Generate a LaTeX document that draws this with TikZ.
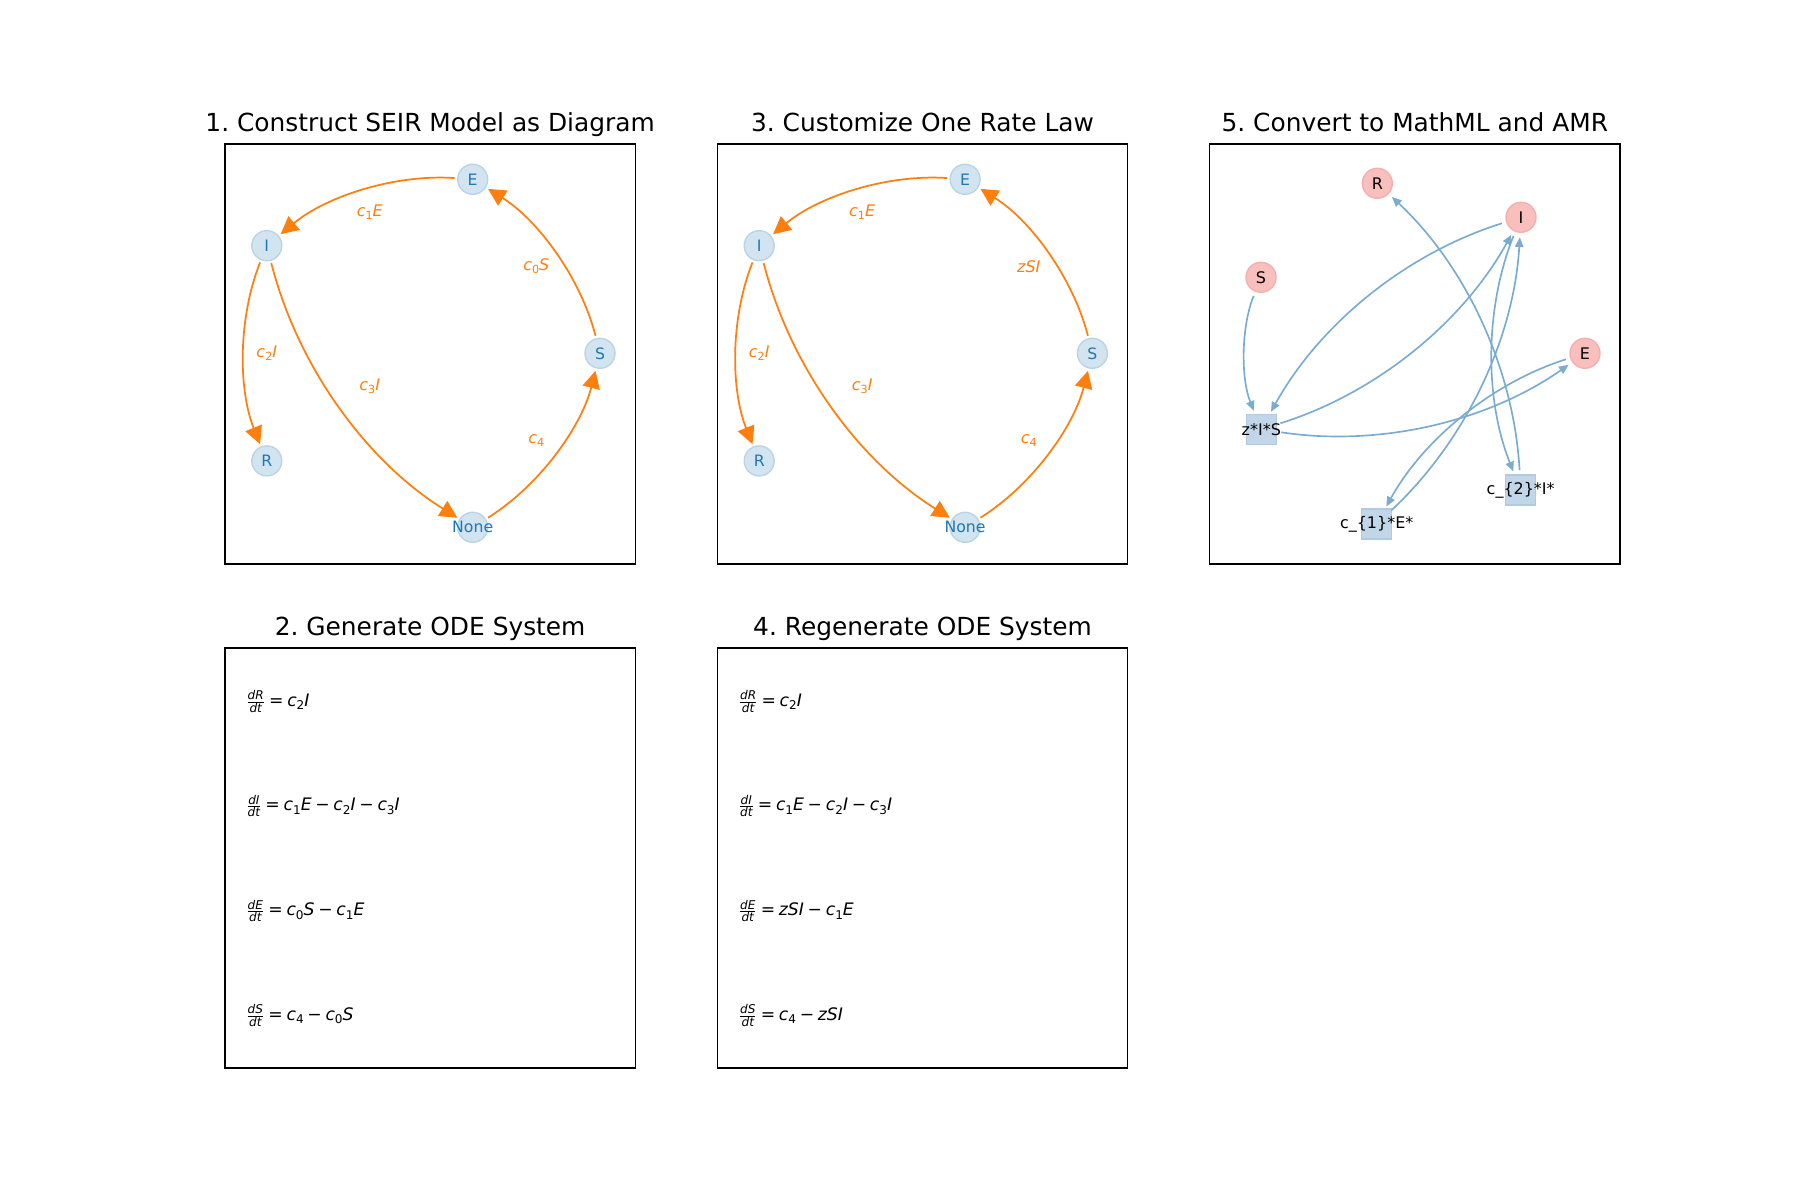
\documentclass[tikz,border=0pt]{standalone}
\usepackage{fontspec}
\usepackage{amsmath}
\setmainfont{DejaVu Sans}
\usetikzlibrary{calc,arrows.meta}
\frenchspacing
\definecolor{tabblue}{RGB}{31,119,180}
\definecolor{taborange}{RGB}{255,127,14}
\definecolor{nfill}{RGB}{210,228,240}
\definecolor{ndraw}{RGB}{186,211,231}
\definecolor{rfill}{RGB}{248,191,188}
\definecolor{rdraw}{RGB}{243,176,172}
\definecolor{tfill}{RGB}{193,214,232}
\definecolor{tdraw}{RGB}{176,202,226}
\definecolor{bedge}{RGB}{122,172,210}
\newcommand\mv[1]{\textit{#1}}
\newcommand\subx[1]{\raisebox{-0.2em}{\scalebox{0.7}{#1}}}
\newcommand\eqsp{\hspace{0.215em}}
\newcommand\ofr[2]{$\frac{\text{\itshape #1}}{\text{\itshape #2}}$}
\newcommand\arcedge[3][]{%
  \coordinate (ctl) at ($(#2.center)!0.5!(#3.center)!0.4!-90:(#3.center)$);
  \draw[#1] (#2) .. controls ($(#2.center)!2/3!(ctl)$) and ($(#3.center)!2/3!(ctl)$) .. (#3);}
\tikzset{
 frame/.style={draw=black, line width=1bp},
 ttl/.style={anchor=base, inner sep=0, font=\fontsize{17.9bp}{20bp}\selectfont},
 pnode/.style={circle, minimum size=21.6bp, inner sep=0, outer sep=2.2bp, fill=nfill, draw=ndraw, line width=1bp},
 plab/.style={text=tabblue, inner sep=0, font=\fontsize{11.3bp}{13bp}\selectfont},
 pedge/.style={draw=taborange, line width=1.25bp, -{Triangle[length=12.6bp,width=12.6bp]}},
 elab/.style={fill=white, inner sep=1.5bp, text=taborange, font=\fontsize{11.5bp}{13bp}\selectfont},
 rnode/.style={circle, minimum size=21.6bp, inner sep=0, outer sep=3.6bp, fill=rfill, draw=rdraw, line width=1bp},
 tnode/.style={circle, minimum size=21.6bp, inner sep=0, outer sep=3.6bp},
 tsq/.style={rectangle, minimum size=21.6bp, inner sep=0, fill=tfill, draw=tdraw, line width=1bp},
 klab/.style={text=black, inner sep=0, font=\fontsize{11.5bp}{13bp}\selectfont},
 bedgestyle/.style={draw=bedge, line width=1.2bp, -{Triangle[length=7bp,width=6bp]}},
 eqn/.style={anchor=base west, inner sep=0, font=\fontsize{12.4bp}{15bp}\selectfont},
}
\begin{document}
\begin{tikzpicture}[x=0.72bp, y=-0.72bp]
\useasboundingbox (0,0) rectangle (1800,1200);
% frames
\draw[frame] (225,144) rectangle (635.3,564);
\draw[frame] (717.4,144) rectangle (1127.7,564);
\draw[frame] (1209.7,144) rectangle (1620,564);
\draw[frame] (225,648) rectangle (635.3,1068);
\draw[frame] (717.4,648) rectangle (1127.7,1068);
% titles
\node[ttl] (t1) at (430.15,131.7) {1. Construct SEIR Model as Diagram};
\node[ttl] (t3) at (922.55,131.7) {3. Customize One Rate Law};
\node[ttl] (t5) at (1414.85,131.7) {5. Convert to MathML and AMR};
\node[ttl] (t2) at (430.15,635.7) {2. Generate ODE System};
\node[ttl] (t4) at (922.55,635.7) {4. Regenerate ODE System};
% panel 1
\node[pnode, label={[plab]center:E}] (E1) at (472.7,179.3) {};
\node[pnode, label={[plab]center:I}] (I1) at (266.8,245.7) {};
\node[pnode, label={[plab]center:S}] (S1) at (600,353.3) {};
\node[pnode, label={[plab]center:R}] (R1) at (266.8,460.9) {};
\node[pnode, label={[plab]center:None}] (N1) at (472.7,527.3) {};
\arcedge[pedge]{E1}{I1}
\arcedge[pedge]{S1}{E1}
\arcedge[pedge]{I1}{R1}
\arcedge[pedge]{I1}{N1}
\arcedge[pedge]{N1}{S1}
\node[elab] (l1a) at ($(E1)!0.5!(I1)$) {\mv{c}\subx{1}\mv{E}};
\node[elab] (l1b) at ($(S1)!0.5!(E1)$) {\mv{c}\subx{0}\mv{S}};
\node[elab] (l1c) at ($(I1)!0.5!(R1)$) {\mv{c}\subx{2}\mv{I}};
\node[elab] (l1d) at ($(I1)!0.5!(N1)$) {\mv{c}\subx{3}\mv{I}};
\node[elab] (l1e) at ($(N1)!0.5!(S1)$) {\mv{c}\subx{4}};
% panel 3
\node[pnode, label={[plab]center:E}] (E3) at (965.1,179.3) {};
\node[pnode, label={[plab]center:I}] (I3) at (759.2,245.7) {};
\node[pnode, label={[plab]center:S}] (S3) at (1092.4,353.3) {};
\node[pnode, label={[plab]center:R}] (R3) at (759.2,460.9) {};
\node[pnode, label={[plab]center:None}] (N3) at (965.1,527.3) {};
\arcedge[pedge]{E3}{I3}
\arcedge[pedge]{S3}{E3}
\arcedge[pedge]{I3}{R3}
\arcedge[pedge]{I3}{N3}
\arcedge[pedge]{N3}{S3}
\node[elab] (l3a) at ($(E3)!0.5!(I3)$) {\mv{c}\subx{1}\mv{E}};
\node[elab] (l3b) at ($(S3)!0.5!(E3)$) {\mv{zSI}};
\node[elab] (l3c) at ($(I3)!0.5!(R3)$) {\mv{c}\subx{2}\mv{I}};
\node[elab] (l3d) at ($(I3)!0.5!(N3)$) {\mv{c}\subx{3}\mv{I}};
\node[elab] (l3e) at ($(N3)!0.5!(S3)$) {\mv{c}\subx{4}};
% panel 5
\node[rnode, label={[klab]center:R}] (R5) at (1377.3,183.3) {};
\node[rnode, label={[klab]center:I}] (I5) at (1521,217.3) {};
\node[rnode, label={[klab]center:S}] (S5) at (1261,277.3) {};
\node[rnode, label={[klab]center:E}] (E5) at (1585,353.3) {};
\node[tnode, label={[tsq]center:{}}, label={[klab]center:z*I*S}] (T1) at (1261.3,429.3) {};
\node[tnode, label={[tsq]center:{}}, label={[klab]center:c\_\{2\}*I*}] (T2) at (1520.7,490) {};
\node[tnode, label={[tsq]center:{}}, label={[klab]center:c\_\{1\}*E*}] (T3) at (1376.7,524) {};
\arcedge[bedgestyle]{S5}{T1}
\arcedge[bedgestyle]{I5}{T1}
\arcedge[bedgestyle]{T1}{I5}
\arcedge[bedgestyle]{T1}{E5}
\arcedge[bedgestyle]{E5}{T3}
\arcedge[bedgestyle]{T3}{I5}
\arcedge[bedgestyle]{I5}{T2}
\arcedge[bedgestyle]{T2}{R5}
% panel 2
\node[eqn] (q2a) at (245.8,706) {\ofr{dR}{dt}\eqsp=\eqsp\mv{c}\subx{2}\mv{I}};
\node[eqn] (q2b) at (245.8,810.9) {\ofr{dI}{dt}\eqsp=\eqsp\mv{c}\subx{1}\mv{E}\eqsp−\eqsp\mv{c}\subx{2}\mv{I}\eqsp−\eqsp\mv{c}\subx{3}\mv{I}};
\node[eqn] (q2c) at (245.8,915.7) {\ofr{dE}{dt}\eqsp=\eqsp\mv{c}\subx{0}\mv{S}\eqsp−\eqsp\mv{c}\subx{1}\mv{E}};
\node[eqn] (q2d) at (245.8,1020.5) {\ofr{dS}{dt}\eqsp=\eqsp\mv{c}\subx{4}\eqsp−\eqsp\mv{c}\subx{0}\mv{S}};
% panel 4
\node[eqn] (q4a) at (738.2,706) {\ofr{dR}{dt}\eqsp=\eqsp\mv{c}\subx{2}\mv{I}};
\node[eqn] (q4b) at (738.2,810.9) {\ofr{dI}{dt}\eqsp=\eqsp\mv{c}\subx{1}\mv{E}\eqsp−\eqsp\mv{c}\subx{2}\mv{I}\eqsp−\eqsp\mv{c}\subx{3}\mv{I}};
\node[eqn] (q4c) at (738.2,915.7) {\ofr{dE}{dt}\eqsp=\eqsp\mv{zSI}\eqsp−\eqsp\mv{c}\subx{1}\mv{E}};
\node[eqn] (q4d) at (738.2,1020.5) {\ofr{dS}{dt}\eqsp=\eqsp\mv{c}\subx{4}\eqsp−\eqsp\mv{zSI}};
\end{tikzpicture}
\end{document}
